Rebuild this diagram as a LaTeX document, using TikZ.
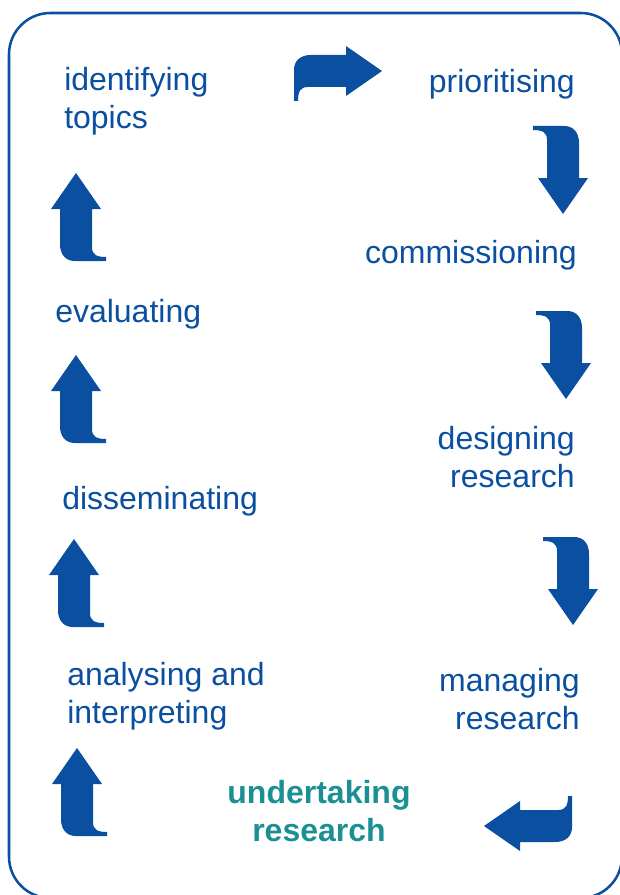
\documentclass[tikz,border=0pt]{standalone}
\usepackage{fontspec}
\setmainfont{Liberation Sans}
\definecolor{diagblue}{HTML}{0A4FA0}
\definecolor{diagteal}{HTML}{1A8F94}
\begin{document}
\begin{tikzpicture}[x=0.75pt,y=-0.75pt,
  lbl/.style={inner sep=0pt,text=diagblue,font=\fontsize{24}{28.5}\selectfont},
  hilite/.style={inner sep=0pt,text=diagteal,font=\fontsize{24}{28.5}\selectfont\bfseries},
  hookarrow/.pic={\fill[diagblue] (0,0) -- (25,36) -- (16,36) -- (16,74)
      .. controls (16,82) and (21,84) .. (30,84) -- (30,88) -- (-1,88)
      .. controls (-10,88) and (-16,82) .. (-16,71) -- (-16,36) -- (-25,36) -- cycle;}]
\useasboundingbox (0,0) rectangle (620,895);
\begin{scope}
\clip (0,0) rectangle (620,895);
\draw[diagblue,line width=1.9pt,rounded corners=31pt] (9,13) rectangle (622,898);
\end{scope}
% labels
\node[lbl,anchor=base west,align=left] (topics) at (64,129) {identifying\\topics};
\node[lbl,anchor=base east] (prio) at (575,93) {prioritising};
\node[lbl,anchor=base east] (comm) at (577,263) {commissioning};
\node[lbl,anchor=base east,align=right] (design) at (575,487) {designing\\research};
\node[lbl,anchor=base east,align=right] (manage) at (580,729) {managing\\research};
\node[hilite,anchor=base,align=center] (under) at (319,841) {undertaking\\research};
\node[lbl,anchor=base west,align=left] (analyse) at (67,723) {analysing and\\interpreting};
\node[lbl,anchor=base west] (dissem) at (62,509) {disseminating};
\node[lbl,anchor=base west] (eval) at (55,322) {evaluating};
% arrows
\pic[rotate=-90] at (382,71) {hookarrow};
\pic[rotate=180] at (563,214) {hookarrow};
\pic[rotate=180] at (566,399) {hookarrow};
\pic[rotate=180] at (573,625) {hookarrow};
\pic[rotate=90] at (484,826) {hookarrow};
\pic at (77,748) {hookarrow};
\pic at (74,539) {hookarrow};
\pic at (76,355) {hookarrow};
\pic at (76,173) {hookarrow};
\end{tikzpicture}
\end{document}
